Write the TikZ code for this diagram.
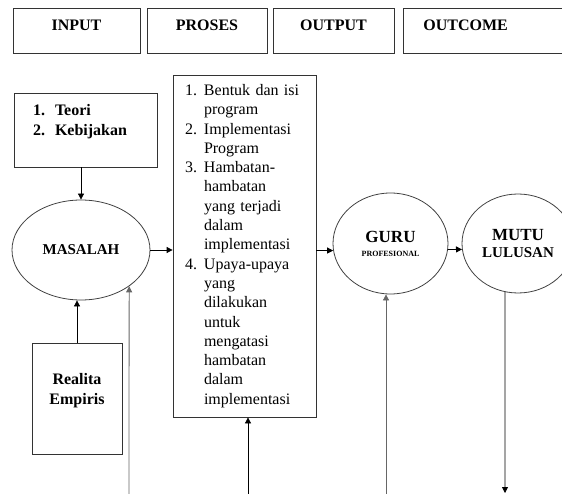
\documentclass[tikz,border=0pt]{standalone}
\usepackage{fontspec}
\setmainfont{Liberation Serif}
\usetikzlibrary{positioning,arrows.meta,shapes}

\newcommand{\butir}[1]{\makebox[19pt][l]{#1}}
\newcommand{\lanjut}{\hspace*{19pt}}

\tikzset{
  kotak/.style={draw=black!80,line width=0.8pt,rectangle,inner sep=0pt},
  judul/.style={kotak,minimum height=45pt,font=\fontsize{16}{19}\selectfont\bfseries,text depth=10pt},
  elips/.style={draw=black!75,line width=0.8pt,ellipse,inner sep=0pt,align=center,font=\bfseries},
  abu/.style={draw=black!60}
}

\begin{document}
\begin{tikzpicture}[x=1pt,y=-1pt,line width=0.8pt,>={Triangle[length=6pt,width=6pt]}]
    \useasboundingbox (0,0) rectangle (562,494);
    \clip (0,0) rectangle (562,494);

    % kolom judul
    \node[judul,minimum width=127pt] (input) at (76.5,30.5) {INPUT};
    \node[judul,minimum width=120pt] (proses) at (207,30.5) {PROSES};
    \node[judul,minimum width=121pt] (output) at (333.5,30.5) {OUTPUT};
    \node[judul,anchor=west,text width=132pt,inner xsep=20pt,align=left] (outcome) at (403,30.5) {OUTCOME};

    % input
    \node[kotak,minimum width=143pt,minimum height=74pt,text width=105pt,align=left,
          font=\fontsize{16}{20}\selectfont\bfseries] (teori) at (85.5,130)
          {\makebox[22pt][l]{1.}Teori\\\makebox[22pt][l]{2.}Kebijakan\\\mbox{}};
    \node[elips,minimum width=138pt,minimum height=100pt,font=\fontsize{15}{18}\selectfont\bfseries] (masalah) at (81,250) {MASALAH};
    \node[kotak,minimum width=90pt,minimum height=111pt,align=center,
          font=\fontsize{16}{20}\selectfont\bfseries] (realita) at (77,398.5) {Realita\\Empiris\\\mbox{}};

    % proses
    \node[kotak,minimum width=143pt,minimum height=342pt,text width=119pt,align=left,
          font=\fontsize{16}{19.3}\selectfont] (isi) at (244.5,246)
          {\butir{1.}Bentuk dan isi\\ \lanjut program\\ \butir{2.}Implementasi\\ \lanjut Program\\
           \butir{3.}Hambatan-\\ \lanjut hambatan\\ \lanjut yang terjadi\\ \lanjut dalam\\ \lanjut implementasi\\
           \butir{4.}Upaya-upaya\\ \lanjut yang\\ \lanjut dilakukan\\ \lanjut untuk\\ \lanjut mengatasi\\
           \lanjut hambatan\\ \lanjut dalam\\ \lanjut implementasi};

    % output dan outcome
    \node[elips,minimum width=115pt,minimum height=101pt] (guru) at (390.5,243.5)
          {{\fontsize{17}{20}\selectfont GURU}\\[2pt]{\fontsize{8}{10}\selectfont PROFESIONAL}};
    \node[elips,minimum width=112pt,minimum height=99pt] (mutu) at (518,243.5)
          {{\fontsize{17}{20}\selectfont MUTU}\\[5pt]{\fontsize{15}{17}\selectfont LULUSAN}};

    \coordinate (b1) at (129,494);
    \coordinate (b2) at (248,494);
    \coordinate (b3) at (386,494);
    \coordinate (b4) at (505,493);

    \draw[->] (teori.south -| masalah.north) -- (masalah.north);
    \draw[->] (realita.north) -- (realita.north |- masalah.south);
    \draw[->] (masalah.east) -- (masalah.east -| isi.west);
    \draw[->] (guru.187 -| isi.east) -- (guru.187);
    \draw[->] (guru.354) -- (mutu.186);
    \draw[->,abu] (b1) -- (masalah.323);
    \draw[->] (b2) -- (b2 |- isi.south);
    \draw[->,abu] (b3) -- (b3 |- guru.south);
    \draw[->] (mutu.255) -- (b4);
\end{tikzpicture}
\end{document}
